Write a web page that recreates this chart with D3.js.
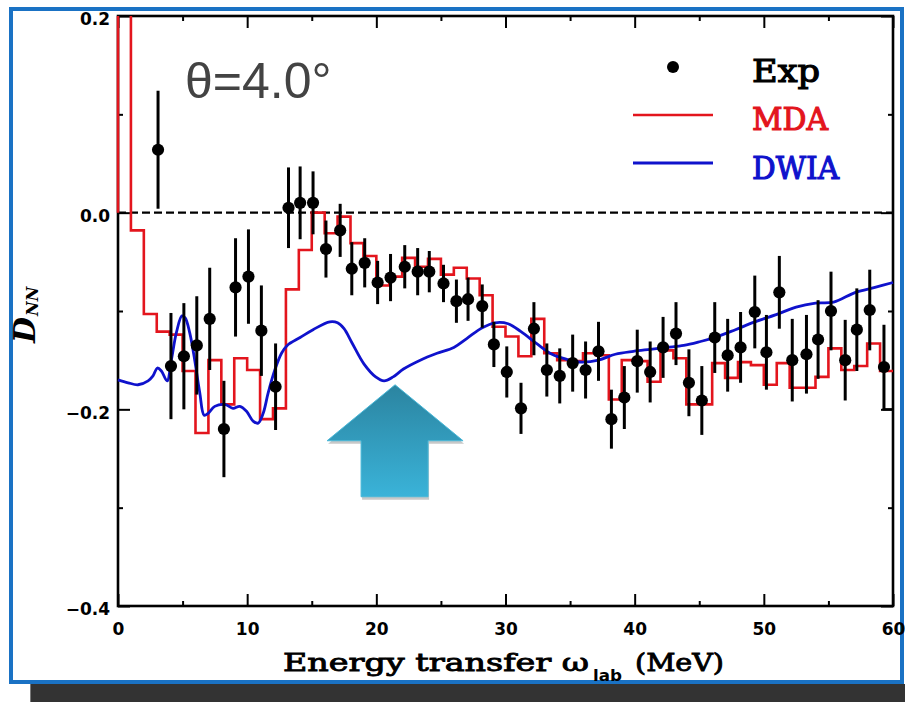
<!DOCTYPE html>
<html>
<head>
<meta charset="utf-8">
<script src="https://cdn.jsdelivr.net/npm/d3@7"></script>
<style>
  body { margin: 0; background: #fff; }
  svg { display: block; }
</style>
</head>
<body>
<svg id="chart" width="905" height="702"></svg>
<script>
// Measured spin-flip observable D_NN versus energy transfer, theta = 4.0 deg
const expE = [3.1, 4.1, 5.1, 6.1, 7.1, 8.2, 9.1, 10.1, 11.1, 12.2, 13.2, 14.1, 15.1, 16.1, 17.2, 18.1, 19.1, 20.1, 21.1, 22.2,
  23.2, 24.1, 25.2, 26.2, 27.1, 28.2, 29.1, 30.1, 31.2, 32.2, 33.2, 34.2, 35.2, 36.2, 37.2, 38.2, 39.2, 40.2, 41.2, 42.2,
  43.2, 44.2, 45.2, 46.2, 47.2, 48.2, 49.3, 50.2, 51.2, 52.2, 53.3, 54.2, 55.2, 56.3, 57.2, 58.2, 59.3];
const expD = [0.064, -0.156, -0.146, -0.135, -0.108, -0.220, -0.076, -0.065, -0.120, -0.177, 0.005, 0.010, 0.010, -0.037, -0.018, -0.057, -0.051, -0.071, -0.066, -0.055,
  -0.060, -0.060, -0.072, -0.090, -0.088, -0.095, -0.134, -0.162, -0.199, -0.118, -0.160, -0.166, -0.153, -0.160, -0.141, -0.210, -0.188, -0.151, -0.162, -0.137,
  -0.123, -0.173, -0.191, -0.127, -0.145, -0.137, -0.101, -0.142, -0.081, -0.150, -0.144, -0.129, -0.100, -0.150, -0.119, -0.099, -0.157];
const expErr = [0.060, 0.054, 0.054, 0.050, 0.052, 0.049, 0.050, 0.048, 0.046, 0.044, 0.041, 0.037, 0.032, 0.029, 0.027, 0.027, 0.025, 0.022, 0.024, 0.022,
  0.024, 0.021, 0.019, 0.022, 0.022, 0.022, 0.023, 0.026, 0.026, 0.027, 0.027, 0.028, 0.029, 0.029, 0.030, 0.030, 0.032, 0.032, 0.031, 0.031,
  0.032, 0.034, 0.035, 0.036, 0.037, 0.036, 0.037, 0.038, 0.037, 0.042, 0.040, 0.040, 0.040, 0.041, 0.042, 0.041, 0.043];

// MDA result as a 1 MeV histogram: left bin edge and value
const mdaE = [0, 1, 2, 3, 4, 5, 6, 7, 8, 9, 10, 11, 12, 13, 14, 15, 16, 17, 18, 19, 20, 21, 22, 23, 24, 25, 26, 27, 28, 29,
  30, 31, 32, 33, 34, 35, 36, 37, 38, 39, 40, 41, 42, 43, 44, 45, 46, 47, 48, 49, 50, 51, 52, 53, 54, 55, 56, 57, 58, 59];
const mdaD = [0.45, -0.018, -0.103, -0.121, -0.124, -0.161, -0.224, -0.150, -0.195, -0.148, -0.160, -0.210, -0.199, -0.078, -0.038, 0.000, -0.021, -0.004, -0.031, -0.044,
  -0.074, -0.065, -0.046, -0.055, -0.047, -0.063, -0.056, -0.067, -0.084, -0.116, -0.126, -0.146, -0.108, -0.143, -0.150, -0.151, -0.143, -0.145, -0.190, -0.150,
  -0.151, -0.172, -0.140, -0.148, -0.195, -0.195, -0.153, -0.168, -0.152, -0.155, -0.175, -0.153, -0.178, -0.178, -0.167, -0.138, -0.160, -0.156, -0.133, -0.161];
const mdaEnd = 60;

// DWIA calculation
const dwiaE = [0, 0.78, 1.55, 2.33, 2.71, 3.05, 3.36, 3.8, 4.13, 4.52, 4.95, 5.2, 5.55, 5.94, 6.33, 6.67, 6.98, 7.49, 8.27, 8.9,
  9.43, 9.95, 10.46, 10.85, 11.24, 11.63, 12.14, 12.66, 13.1, 14.1, 15.1, 16.4, 17.0, 17.5, 18.1, 19.05, 19.95, 20.6, 21.3, 22.1,
  23.4, 24.7, 26.0, 27.0, 28.2, 29.2, 30.2, 31.2, 32.5, 33.6, 34.7, 35.9, 37.2, 38.5, 39.9, 41.2, 42.5, 43.8, 45.1, 46.2,
  47.8, 49.3, 50.9, 52.5, 54.0, 55.4, 57.1, 58.6, 60];
const dwiaD = [-0.170, -0.173, -0.175, -0.171, -0.166, -0.158, -0.161, -0.171, -0.150, -0.122, -0.105, -0.107, -0.122, -0.150, -0.183, -0.206, -0.204, -0.197, -0.195, -0.199,
  -0.197, -0.202, -0.212, -0.214, -0.204, -0.183, -0.160, -0.143, -0.135, -0.127, -0.119, -0.111, -0.112, -0.118, -0.132, -0.154, -0.167, -0.171, -0.167, -0.159,
  -0.150, -0.143, -0.137, -0.128, -0.117, -0.112, -0.113, -0.121, -0.134, -0.144, -0.149, -0.152, -0.150, -0.144, -0.141, -0.139, -0.137, -0.135, -0.131, -0.127,
  -0.119, -0.111, -0.104, -0.096, -0.092, -0.091, -0.081, -0.076, -0.071];

// short black step left at the top end of the spectrum
const tailE = [59.2, 60];
const tailD = [-0.200, -0.200];

const xTicks = [0, 10, 20, 30, 40, 50, 60];
const xMinorTicks = [5, 15, 25, 35, 45, 55];
const yTicks = [-0.4, -0.2, 0.0, 0.2];
const yMinorTicks = [-0.3, -0.1, 0.1];
const legendLabels = ["Exp", "MDA", "DWIA"];

const RED = "#e3151d";
const BLUE = "#0f12cc";

const svg = d3.select("#chart");
const W = 905, H = 702;

const x = d3.scaleLinear().domain([0, 60]).range([118, 893]);
const y = d3.scaleLinear().domain([-0.4, 0.2]).range([606, 16]);

svg.append("rect").attr("width", W).attr("height", H).attr("fill", "#fff");

// dark strip under the slide
svg.append("rect").attr("x", 30).attr("y", 684).attr("width", W - 30).attr("height", H - 684).attr("fill", "#333333");
svg.append("line").attr("x1", 30.5).attr("x2", 30.5).attr("y1", 684).attr("y2", H).attr("stroke", "#7a7a7a").attr("stroke-width", 1);

// slide frame
svg.append("rect").attr("x", 11).attr("y", 9).attr("width", 891).attr("height", 673)
  .attr("fill", "#fff").attr("stroke", "#1a72c4").attr("stroke-width", 4);

const defs = svg.append("defs");
defs.append("clipPath").attr("id", "plotClip").append("rect")
  .attr("x", x(0) - 2).attr("y", y(0.2)).attr("width", x(60) - x(0) + 4).attr("height", y(-0.4) - y(0.2));

const grad = defs.append("linearGradient").attr("id", "arrowFill").attr("x1", 0).attr("y1", 0).attr("x2", 0).attr("y2", 1);
grad.append("stop").attr("offset", "0%").attr("stop-color", "#2b84a0");
grad.append("stop").attr("offset", "100%").attr("stop-color", "#3ab3d9");

const tickFont = g => g.selectAll("text")
  .attr("font-family", "'DejaVu Sans', sans-serif").attr("font-weight", "bold")
  .attr("font-size", 17).attr("fill", "#000");
const tickLines = (g, w) => g.selectAll("line").attr("stroke", "#000").attr("stroke-width", w);

// bottom axis
const gxb = svg.append("g").attr("transform", `translate(0,${y(-0.4)})`)
  .call(d3.axisBottom(x).tickValues(xTicks).tickSize(-12).tickSizeOuter(0).tickPadding(17).tickFormat(d3.format("d")));
gxb.select(".domain").remove(); tickFont(gxb); tickLines(gxb, 2);
const gxbm = svg.append("g").attr("transform", `translate(0,${y(-0.4)})`)
  .call(d3.axisBottom(x).tickValues(xMinorTicks).tickSize(-5).tickSizeOuter(0).tickFormat(""));
gxbm.select(".domain").remove(); tickLines(gxbm, 2);

// top axis
const gxt = svg.append("g").attr("transform", `translate(0,${y(0.2)})`)
  .call(d3.axisTop(x).tickValues(xTicks).tickSize(-12).tickSizeOuter(0).tickFormat(""));
gxt.select(".domain").remove(); tickLines(gxt, 2);
const gxtm = svg.append("g").attr("transform", `translate(0,${y(0.2)})`)
  .call(d3.axisTop(x).tickValues(xMinorTicks).tickSize(-5).tickSizeOuter(0).tickFormat(""));
gxtm.select(".domain").remove(); tickLines(gxtm, 2);

// left axis
const gyl = svg.append("g").attr("transform", `translate(${x(0)},0)`)
  .call(d3.axisLeft(y).tickValues(yTicks).tickSize(-12).tickSizeOuter(0).tickPadding(8).tickFormat(d3.format(".1f")));
gyl.select(".domain").remove(); tickFont(gyl); tickLines(gyl, 2);
gyl.selectAll("text").attr("dy", "0.52em");
const gylm = svg.append("g").attr("transform", `translate(${x(0)},0)`)
  .call(d3.axisLeft(y).tickValues(yMinorTicks).tickSize(-5).tickSizeOuter(0).tickFormat(""));
gylm.select(".domain").remove(); tickLines(gylm, 2);

// right axis
const gyr = svg.append("g").attr("transform", `translate(${x(60)},0)`)
  .call(d3.axisRight(y).tickValues(yTicks).tickSize(-12).tickSizeOuter(0).tickFormat(""));
gyr.select(".domain").remove(); tickLines(gyr, 2);
const gyrm = svg.append("g").attr("transform", `translate(${x(60)},0)`)
  .call(d3.axisRight(y).tickValues(yMinorTicks).tickSize(-5).tickSizeOuter(0).tickFormat(""));
gyrm.select(".domain").remove(); tickLines(gyrm, 2);

// plot frame
svg.append("rect").attr("x", x(0)).attr("y", y(0.2)).attr("width", x(60) - x(0)).attr("height", y(-0.4) - y(0.2))
  .attr("fill", "none").attr("stroke", "#000").attr("stroke-width", 2.6);

// zero reference
svg.append("line").attr("x1", x(0)).attr("x2", x(60)).attr("y1", y(0)).attr("y2", y(0))
  .attr("stroke", "#000").attr("stroke-width", 2.4).attr("stroke-dasharray", "8,4");

const plot = svg.append("g").attr("clip-path", "url(#plotClip)");

// black tail step
plot.append("path")
  .attr("d", d3.line().x(d => x(d[0])).y(d => y(d[1]))(tailE.map((e, i) => [e, tailD[i]])))
  .attr("fill", "none").attr("stroke", "#000").attr("stroke-width", 2.4);

// MDA histogram
const mdaPts = [[mdaE[0], 0]].concat(mdaE.map((e, i) => [e, mdaD[i]]), [[mdaEnd, mdaD[mdaD.length - 1]]]);
plot.append("path")
  .attr("d", d3.line().x(d => x(d[0])).y(d => y(d[1])).curve(d3.curveStepAfter)(mdaPts))
  .attr("fill", "none").attr("stroke", RED).attr("stroke-width", 2.6).attr("stroke-linejoin", "miter");

// DWIA curve
plot.append("path")
  .attr("d", d3.line().x(d => x(d[0])).y(d => y(d[1])).curve(d3.curveCatmullRom.alpha(0.5))(dwiaE.map((e, i) => [e, dwiaD[i]])))
  .attr("fill", "none").attr("stroke", BLUE).attr("stroke-width", 2.8);

// experimental points with error bars
const pts = svg.append("g");
pts.selectAll("line").data(expE).join("line")
  .attr("x1", d => x(d)).attr("x2", d => x(d))
  .attr("y1", (d, i) => y(expD[i] + expErr[i])).attr("y2", (d, i) => y(expD[i] - expErr[i]))
  .attr("stroke", "#000").attr("stroke-width", 3);
pts.selectAll("circle").data(expE).join("circle")
  .attr("cx", d => x(d)).attr("cy", (d, i) => y(expD[i])).attr("r", 6.1).attr("fill", "#000");

// arrow annotation
const arrowTip = [x(21.45), y(-0.175)];
const arrowShape = [[0, 0], [68, 56], [33, 56], [33, 112], [-34, 112], [-34, 56], [-68, 56]]
  .map(p => [arrowTip[0] + p[0], arrowTip[1] + p[1]]);
svg.append("polygon").attr("points", arrowShape.map(p => `${p[0] + 1},${p[1] + 3}`).join(" "))
  .attr("fill", "#9a9a9a").attr("opacity", 0.55);
svg.append("polygon").attr("points", arrowShape.map(p => p.join(",")).join(" "))
  .attr("fill", "url(#arrowFill)").attr("stroke", "#4ab8d8").attr("stroke-width", 1);

// angle label
svg.append("text").attr("x", 185).attr("y", 97.5).text("θ=4.0°")
  .attr("font-family", "'Liberation Sans', Arial, sans-serif").attr("font-size", 50).attr("fill", "#434343");

// legend
const serif = "'DejaVu Serif', serif";
svg.append("circle").attr("cx", 673).attr("cy", 67).attr("r", 6).attr("fill", "#000");
svg.append("line").attr("x1", 633).attr("x2", 713).attr("y1", 115).attr("y2", 115).attr("stroke", RED).attr("stroke-width", 2.6);
svg.append("line").attr("x1", 633).attr("x2", 713).attr("y1", 163).attr("y2", 163).attr("stroke", BLUE).attr("stroke-width", 2.8);
const legendRows = [
  { label: legendLabels[0], color: "#000", base: 82, len: 68 },
  { label: legendLabels[1], color: RED, base: 130, len: 76 },
  { label: legendLabels[2], color: BLUE, base: 179, len: 87 }
];
svg.selectAll("text.legend").data(legendRows).join("text").attr("class", "legend")
  .attr("x", 752).attr("y", d => d.base).text(d => d.label)
  .attr("font-family", serif).attr("font-size", 32).attr("fill", d => d.color)
  .attr("stroke", d => d.color).attr("stroke-width", 1.2)
  .attr("textLength", d => d.len).attr("lengthAdjust", "spacingAndGlyphs");

// axis titles
svg.append("text").attr("x", 283).attr("y", 671).text("Energy transfer ω")
  .attr("font-family", serif).attr("font-size", 25).attr("fill", "#000").attr("stroke", "#000").attr("stroke-width", 0.9)
  .attr("textLength", 306).attr("lengthAdjust", "spacingAndGlyphs");
svg.append("text").attr("x", 593).attr("y", 681).text("lab")
  .attr("font-family", "'DejaVu Sans', sans-serif").attr("font-weight", "bold").attr("font-size", 15).attr("fill", "#000")
  .attr("textLength", 29).attr("lengthAdjust", "spacingAndGlyphs");
svg.append("text").attr("x", 635).attr("y", 671).text("(MeV)")
  .attr("font-family", serif).attr("font-size", 25).attr("fill", "#000").attr("stroke", "#000").attr("stroke-width", 0.9)
  .attr("textLength", 89).attr("lengthAdjust", "spacingAndGlyphs");

const yTitle = svg.append("text").attr("transform", "translate(35,343) rotate(-90)")
  .attr("font-family", serif).attr("font-style", "italic").attr("font-weight", "bold").attr("fill", "#000");
yTitle.append("tspan").attr("font-size", 30).text("D");
yTitle.append("tspan").attr("font-size", 16).attr("dy", 3).attr("dx", 1).text("NN");
</script>
</body>
</html>
